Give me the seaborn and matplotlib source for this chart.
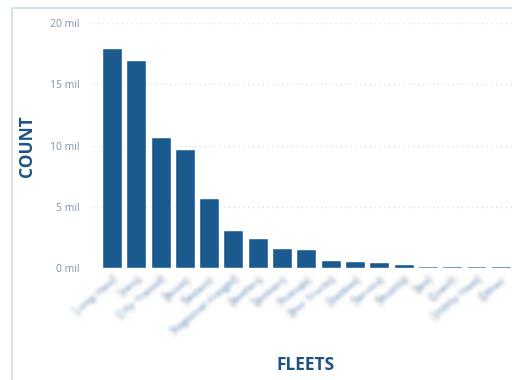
import numpy as np
import pandas as pd
import matplotlib
matplotlib.use("Agg")
import matplotlib.pyplot as plt
from matplotlib.patches import Rectangle
from matplotlib.ticker import FuncFormatter
import seaborn as sns

# Fleet sizes, in millions
fleets = [
    "Long Haul", "Vans", "City Transit", "Buses", "Sedans",
    "Regional Freight", "Reefers", "Tankers", "Pickups",
    "Box Trucks", "Flatbed", "Service", "Shuttle", "Taxi",
    "Coach", "Utility Fleet", "Other",
]
counts = [17.9, 16.9, 10.6, 9.6, 5.6, 3.0, 2.4, 1.55, 1.5,
          0.55, 0.45, 0.42, 0.22, 0.08, 0.06, 0.06, 0.05]
y_ticks = [0, 5, 10, 15, 20]

BAR = "#1a5a8e"
TITLE = "#1f5384"
TICK = "#8095ab"
GRID = "#d9e3ec"

sns.set_theme(style="white")
plt.rcParams["font.family"] = ["Open Sans", "DejaVu Sans"]


def gaussian_blur(sigma_px):
    """agg_filter that softens an artist with a separable gaussian."""
    def _filter(im, dpi):
        pad = int(3 * sigma_px) + 1
        src = np.pad(im, [(pad, pad), (pad, pad), (0, 0)], "constant")
        xs = np.arange(-pad, pad + 1)
        k = np.exp(-xs ** 2 / (2 * sigma_px ** 2))
        k /= k.sum()
        out = np.apply_along_axis(lambda r: np.convolve(r, k, mode="same"), 0, src)
        out = np.apply_along_axis(lambda r: np.convolve(r, k, mode="same"), 1, out)
        return out, -pad, -pad
    return _filter


df = pd.DataFrame({"fleet": fleets, "count": counts})

fig = plt.figure(figsize=(5.12, 3.8), dpi=100)
fig.patch.set_facecolor("white")

# card frame around the chart
fig.patches.append(Rectangle((12 / 512, -0.1), 1.2, (380 - 8) / 380 + 0.1,
                             transform=fig.transFigure, fill=False,
                             edgecolor="#cfdbe6", linewidth=1.2, zorder=0))

ax = fig.add_axes([92 / 512, 112 / 380, 1 - 92 / 512, (357 - 112) / 380])
sns.barplot(data=df, x="fleet", y="count", color=BAR, saturation=1,
            width=0.78, edgecolor="#ffffff", linewidth=0.3, ax=ax, zorder=3)

ax.set_xlim(-0.84, 16.44)
ax.set_ylim(0, 20)
ax.set_yticks(y_ticks)
ax.yaxis.set_major_formatter(FuncFormatter(lambda v, _: f"{int(v)} mil"))
ax.grid(axis="y", linestyle=(0, (1, 2.5)), color=GRID, linewidth=1.0, zorder=0)
ax.grid(axis="x", visible=False)
for s in ax.spines.values():
    s.set_visible(False)

ax.tick_params(axis="y", length=0, pad=9, labelsize=7.5, labelcolor=TICK)
ax.tick_params(axis="x", length=0, pad=5)
ax.set_xticks(range(len(fleets)))
ax.set_xticklabels(fleets, rotation=40, ha="right", rotation_mode="anchor",
                   fontsize=7.5, fontweight="bold", color="#7397bd")
blur = gaussian_blur(2.2)
for t in ax.get_xticklabels():
    t.set_agg_filter(blur)

ax.set_xlabel("")
ax.set_ylabel("")
fig.text(27 / 512, 1 - 146 / 380, "COUNT", rotation=90, ha="center", va="center",
         fontsize=12.5, fontweight="bold", color=TITLE)
fig.text(306 / 512, 1 - 365 / 380, "FLEETS", ha="center", va="center",
         fontsize=12.5, fontweight="bold", color=TITLE)

fig.savefig("out.png", dpi=100, facecolor="white")
